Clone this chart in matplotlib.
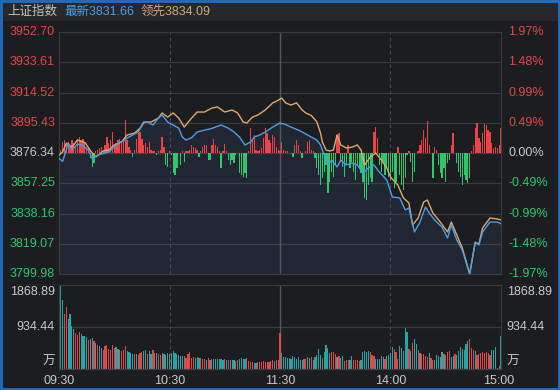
"""Intraday chart of the Shanghai Composite: price, leading index, strength bars and volume."""

import matplotlib

matplotlib.use("Agg")
import matplotlib.pyplot as plt
import numpy as np
from matplotlib.patches import Rectangle
from matplotlib.transforms import blended_transform_factory

plt.rcParams["font.family"] = ["Liberation Sans", "Noto Sans CJK SC"]

# ---- data (minutes after 09:30, lunch break removed) ----
price_levels = [3952.70, 3933.61, 3914.52, 3895.43, 3876.34, 3857.25, 3838.16, 3819.07, 3799.98]
price_labels = ["3952.70", "3933.61", "3914.52", "3895.43", "3876.34", "3857.25", "3838.16", "3819.07", "3799.98"]
pct_labels = ["1.97%", "1.48%", "0.99%", "0.49%", "0.00%", "-0.49%", "-0.99%", "-1.48%", "-1.97%"]
prev_close = 3876.34

time_ticks = [0, 60, 120, 180, 240]
time_labels = ["09:30", "10:30", "11:30", "14:00", "15:00"]

index_t = [0, 2, 5, 7, 10, 13, 16, 18, 21, 24, 27, 30, 32, 35, 37, 40, 43, 46, 48, 51, 54, 56, 59,
           62, 65, 67, 69, 72, 75, 79, 82, 85, 88, 92, 95, 98, 101, 104, 106, 109, 112, 116, 120,
           123, 126, 130, 133, 137, 140, 142, 144, 146, 148, 151, 153, 156, 159, 162, 165, 168,
           171, 174, 178, 181, 185, 188, 190, 193, 196, 199, 201, 204, 208, 211, 213, 216, 219,
           223, 226, 228, 230, 234, 238, 240]
index_price = [3873, 3871, 3882.6, 3878.2, 3882, 3881, 3878, 3873, 3875, 3876, 3877, 3880, 3882.6,
               3884, 3885.8, 3887.7, 3889.6, 3895.3, 3895.9, 3894, 3898.4, 3900.3, 3895.9, 3894,
               3892, 3886.4, 3884.5, 3886, 3889.6, 3890.8, 3891.5, 3892.7, 3894, 3892, 3889.6,
               3886.4, 3881.4, 3883.3, 3886.4, 3887.7, 3889.6, 3892.7, 3895.3, 3894.3, 3892.7,
               3890.8, 3889, 3886.4, 3884.5, 3881.4, 3875, 3868.8, 3871.9, 3867.5, 3871.9, 3868.8,
               3870, 3868.8, 3863.7, 3866.9, 3868.8, 3864.3, 3859.3, 3848.6, 3848, 3840.4, 3841.6,
               3826.5, 3832.8, 3842.3, 3838.5, 3834, 3829.6, 3822.7, 3830.9, 3821.4, 3815.1, 3800,
               3820, 3818.3, 3826.5, 3832.8, 3832.8, 3831.66]

lead_t = [0, 2, 4, 7, 10, 14, 18, 20, 24, 27, 30, 34, 37, 41, 44, 46, 50, 54, 56, 59, 62, 65, 68,
          72, 75, 79, 83, 86, 90, 94, 97, 100, 102, 105, 108, 112, 116, 118, 121, 123, 126, 129,
          132, 134, 137, 140, 142, 143, 145, 147, 149, 151, 153, 156, 159, 162, 164, 166, 169, 172,
          175, 178, 180, 184, 187, 190, 192, 195, 198, 200, 203, 207, 211, 213, 216, 219, 223, 226,
          228, 230, 234, 238, 240]
lead_price = [3875, 3877, 3882.6, 3880, 3884.5, 3883, 3876.3, 3873.8, 3877.6, 3878.2, 3881.4, 3883.3,
              3887.7, 3888.9, 3892, 3895.9, 3895.9, 3898.4, 3901.6, 3899, 3901.6, 3898.4, 3892.7,
              3898.4, 3902.2, 3902.2, 3904.7, 3905.4, 3902.2, 3903.5, 3901.6, 3895.9, 3895.3, 3899,
              3900.3, 3903.5, 3907.9, 3909, 3911, 3908, 3906.6, 3908, 3903.5, 3901.6, 3900, 3896,
              3889, 3883.3, 3878.2, 3877.6, 3878.2, 3887.7, 3881.4, 3879.5, 3880, 3881.4, 3878.2,
              3868.8, 3873.8, 3876.3, 3871.9, 3866.9, 3861.2, 3856.1, 3848, 3844.8, 3830.9, 3835.3,
              3845.4, 3846.7, 3838.5, 3832.8, 3826.5, 3832.8, 3824.6, 3816.4, 3800, 3820, 3818.9,
              3829, 3835.3, 3834.7, 3834.09]

# buy/sell strength bars, one per minute 0..240, in index points around the previous close
strength = [
    0, 2, 7, 8.2, 6, 7, 5, 8, 6, 4,
    9, 10, 8, 9, 7, 4, 3, -3.4, -8.6, -6.5,
    1, 2, 3, 4, 2, 5, 10, 6, 8, 13.5,
    4, 6, 8, 9, 6, 7, 21, 8, 4, 2,
    -2.3, 2, 9, 12.4, 13.5, 9, 5, 6, 4, 7,
    2, 1, 1, -1.3, 1, 2, 10, 4, -7.6, -8.6,
    1, -1.3, -12.8, -14, -9.7, 0, -7.6, 1, -5.5, 1,
    1, 2, 5, 4, 3, 2, -2.3, 1, 4, 5,
    5, -4.4, -4.4, 5, 9, 5, 4, 1, -9.2, 1,
    5.5, 1, -4.4, -7.6, -4.4, -6.5, -1.3, 0, -12.8, -13.9,
    -15, -12.8, -16, 1, 15.6, 8.2, 11.4, 2, 1, 2,
    3, 9.3, 15.6, 12.4, 8.2, 6, 11.4, 10.3, 4, 2,
    1, 7, 2, 1, 1, 0, 0, -2.3, 5, 8.2,
    5, 1, -3.4, 0, 1, 7, 8.2, 2, 1, -3.4,
    -9.7, -13.9, -20, -16, -11.8, -7.6, -25.4, -18, -11.8, -15,
    -7.6, 11.4, 12.4, -5.5, -8.6, -15, -7.6, 5, -9.7, -5.5,
    -11.8, -17, -7.6, -9.7, -12.8, -18, -28.6, -29.7, -20, -16,
    -18, 13.5, 16.6, 9.3, -7.6, -11.8, -5.5, -13.9, -9.7, -15,
    -17, -11.8, -22.3, -18, 4, -13.9, -20, -23.3, -16, -1.3,
    1, -5.5, -18, -11.8, 0, 1, 5, 8.2, 14.5, 9.3,
    20.2, 5, 0, -16, 4, 2, -7.6, -12.8, -16, -9.7,
    -18, -6.5, -4.4, 5, 12.4, 0, -6.5, -11.8, -15, -20,
    -13.9, -17, -19, -16, 1, 5, 15.6, 18.7, 9.3, 7,
    12.4, 18, 17.7, 14.5, 13.5, 6, 3, 4, 3, 5,
    15.6,
]

# volume (万) for minutes 1..240, plus the opening auction
auction_volume = 667
volume = [
    1868, 1543, 1231, 1379, 1112, 1224, 964, 890, 801, 764,
    816, 779, 742, 727, 712, 653, 667, 690, 616, 578,
    541, 504, 467, 430, 504, 526, 445, 430, 534, 467,
    489, 445, 415, 393, 430, 519, 393, 371, 356, 341,
    341, 341, 319, 356, 371, 393, 430, 341, 393, 341,
    415, 356, 356, 341, 319, 356, 341, 319, 356, 341,
    356, 393, 356, 334, 319, 297, 282, 282, 245, 341,
    378, 245, 267, 245, 267, 245, 245, 222, 222, 210,
    245, 193, 222, 222, 222, 222, 222, 222, 208, 222,
    208, 193, 208, 193, 193, 171, 193, 222, 245, 222,
    222, 245, 171, 156, 148, 134, 134, 148, 163, 156,
    178, 163, 163, 163, 178, 208, 178, 193, 208, 801,
    356, 267, 267, 245, 245, 222, 297, 267, 222, 267,
    193, 208, 222, 222, 267, 245, 267, 193, 267, 319,
    445, 319, 245, 371, 541, 467, 356, 371, 371, 341,
    267, 297, 245, 297, 171, 193, 208, 193, 297, 208,
    193, 193, 178, 193, 378, 393, 378, 393, 378, 319,
    297, 222, 222, 222, 282, 267, 222, 297, 319, 356,
    489, 445, 378, 222, 519, 467, 393, 912, 816, 452,
    393, 578, 667, 556, 430, 356, 341, 341, 282, 267,
    356, 245, 208, 193, 319, 297, 267, 371, 341, 319,
    371, 393, 267, 297, 341, 319, 393, 489, 445, 430,
    556, 616, 667, 467, 430, 393, 319, 341, 356, 371,
    356, 371, 356, 319, 430, 430, 489, 22, 59, 727,
]
# r = up minute, t = down minute, g = flat minute
volume_dir = (
    "ttrrtttgrr" "rttttrgtrg" "rttrrrrrrr" "tgtrrrtttt"
    "rtrrrttrtt" "rrtrrgtgtg" "tttttttrrr" "rrrtttrrrt"
    "rrtttttttr" "trttgtrttt" "trrrrttrrr" "rrrrrrtrrr"
    "tttttttttt" "ttrrttrgtt" "ttrttttrrr" "grttrrrttr"
    "rrrtttttrr" "rttttgrttt" "trrrtttttr" "trttrgrrrr"
    "trrttttgtr" "rrttrttttt" "ttrrrtrrrr" "rrrrtttgrt"
)

# ---- styling ----
BG = "#1b1d21"
HEADER_BG = "#26282c"
GRID = "#393b40"
TXT = "#c9c9c9"
RED = "#ec4444"
GREEN = "#2bc96c"
BLUE = "#4a9fe6"
ORANGE = "#e3a865"
VOL_COLORS = {"r": "#e04848", "t": "#26a5a8", "g": "#7f8286"}
FS = 9.0

W, H = 560, 390
fig = plt.figure(figsize=(W / 100, H / 100), dpi=100, facecolor=BG)
fig.patches.append(Rectangle((0, 1 - 21 / H), 1, 21 / H, transform=fig.transFigure,
                             facecolor=HEADER_BG, edgecolor="none", zorder=0))
fig.patches.append(Rectangle((0.001, 0.002), 0.997, 0.996, transform=fig.transFigure,
                             fill=False, edgecolor="#1f6fc5", linewidth=2, zorder=5))

fig.text(7 / W, 1 - 12 / H, "上证指数", color="#c8c2b8", fontsize=FS, va="center")
fig.text(64 / W, 1 - 12 / H, "最新3831.66", color=BLUE, fontsize=FS, va="center")
fig.text(141 / W, 1 - 12 / H, "领先3834.09", color="#d9a66e", fontsize=FS, va="center")

ax = fig.add_axes([59 / W, 1 - 274 / H, 442 / W, 242 / H])
vax = fig.add_axes([59 / W, 1 - 369 / H, 442 / W, 84 / H])

for a in (ax, vax):
    a.set_facecolor(BG)
    a.set_xlim(0, 240)
    a.set_xticks([])
    a.set_yticks([])
    for s in a.spines.values():
        s.set_color(GRID)
        s.set_linewidth(0.9)
    a.axvline(60, color="#4a4c51", lw=0.8, dashes=(3, 3))
    a.axvline(180, color="#4a4c51", lw=0.8, dashes=(3, 3))
    a.axvline(120, color="#55585d", lw=1.0)

# ---- price panel ----
ax.set_ylim(price_levels[-1], price_levels[0])
for lv in price_levels[1:-1]:
    ax.axhline(lv, color=GRID, lw=0.9, zorder=0.5)

minutes = np.arange(len(strength))
strength = np.array(strength)
ax.bar(minutes, strength, bottom=prev_close, width=0.7,
       color=np.where(strength >= 0, RED, GREEN), antialiased=False, lw=0, zorder=2)

ax.fill_between(index_t, index_price, price_levels[-1], color="#3b5a85", alpha=0.18,
                lw=0, zorder=1)
ax.plot(lead_t, lead_price, color=ORANGE, lw=1.0, zorder=3)
ax.plot(index_t, index_price, color=BLUE, lw=1.0, zorder=4)

ytr = blended_transform_factory(ax.transAxes, ax.transData)
for lv, lab, pct in zip(price_levels, price_labels, pct_labels):
    if lv > prev_close:
        col = RED
    elif lv < prev_close:
        col = GREEN
    else:
        col = TXT
    ax.text(-0.009, lv, lab, transform=ytr, ha="right", va="center", color=col, fontsize=FS)
    ax.text(1.017, lv, pct, transform=ytr, ha="left", va="center", color=col, fontsize=FS)

# ---- volume panel ----
vmax = 1868.89
vax.set_ylim(0, vmax)
vax.axhline(934.44, color=GRID, lw=0.9, zorder=0.5)
vol_minutes = np.arange(1, len(volume) + 1)
vax.bar(vol_minutes, volume, width=0.65, color=[VOL_COLORS[c] for c in volume_dir],
        antialiased=False, lw=0, zorder=2)
vax.bar([0], [auction_volume], width=0.8, color="#f0f0f0", antialiased=False, lw=0, zorder=2)

vtr = blended_transform_factory(vax.transAxes, vax.transData)
vlabels = [(vmax, "1868.89", "top"), (934.44, "934.44", "center")]
for val, lab, va in vlabels:
    off = -20 if va == "top" else 0
    vax.text(-0.009, val + off, lab, transform=vtr, ha="right", va=va, color=TXT, fontsize=FS)
    vax.text(1.013, val + off, lab, transform=vtr, ha="left", va=va, color=TXT, fontsize=FS)
vax.text(-0.009, 150, "万", transform=vtr, ha="right", va="center", color=TXT, fontsize=FS)
vax.text(1.013, 150, "万", transform=vtr, ha="left", va="center", color=TXT, fontsize=FS)

xtr = blended_transform_factory(vax.transData, vax.transAxes)
for t, lab in zip(time_ticks, time_labels):
    x = t if t < 240 else t - 1
    vax.text(x, -0.14, lab, transform=xtr, ha="center", va="center", color=TXT, fontsize=FS)

fig.savefig("out.png", dpi=100, facecolor=BG)
plt.close(fig)
